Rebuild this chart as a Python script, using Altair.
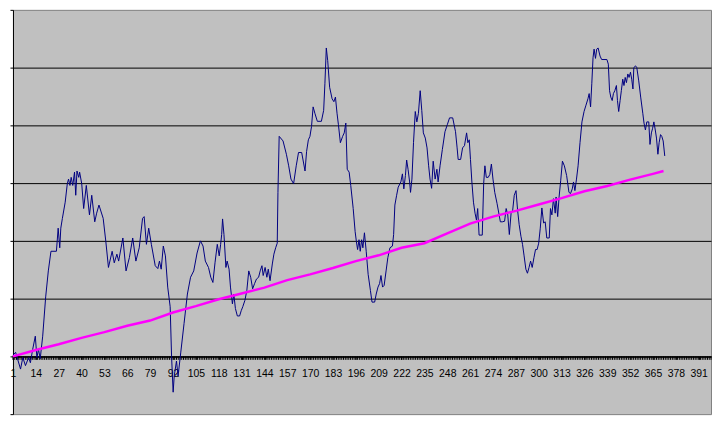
import altair as alt
import pandas as pd

# Blue series: vertex positions (category index) and values
day = [1.0, 2.5, 5.3, 6.6, 8.1, 9.9, 10.9, 12.2, 13.7, 14.6, 15.5, 16.5, 17.9, 19.6, 21.1, 22.6,
       25.7, 26.7, 27.6, 28.2, 29.1, 30.7, 31.9, 32.6, 33.4, 34.1, 35.0, 36.0, 36.7, 37.4, 38.4,
       38.9, 40.1, 41.2, 42.7, 44.5, 45.8, 47.5, 48.6, 49.9, 52.3, 53.8, 55.3, 57.4, 58.6, 60.1,
       61.1, 63.5, 65.3, 67.2, 69.1, 70.9, 72.8, 74.7,
       75.6, 76.9, 78.2, 79.7, 81.9, 83.4, 84.3, 85.3, 86.5, 87.7, 89.0, 90.4, 91.2, 92.1, 92.7,
       94.0, 94.9, 96.4, 98.3, 100.2, 102.0, 103.8, 105.7, 107.6, 109.1, 110.4, 112.2, 113.5,
       114.7, 115.9, 117.2, 118.3, 119.1, 119.7, 120.2, 121.0, 122.1, 122.8, 123.9, 124.7, 125.8,
       126.6, 127.5, 128.6, 129.9, 130.8, 131.7, 132.9, 134.0, 135.1, 136.2, 137.3, 138.4, 139.5,
       140.7, 141.6, 142.6, 143.3, 144.4, 145.4, 146.2, 147.2, 148.5, 149.4, 150.4, 151.3,
       151.7, 152.4, 154.6, 156.5, 157.8, 159.1, 160.6, 162.1, 163.4, 165.2, 167.1, 168.0, 169.0,
       169.9, 170.8, 171.7, 172.7, 174.1, 176.4, 177.7, 178.4, 179.2, 180.0, 181.1, 182.5, 183.5,
       184.4, 185.3, 186.1, 187.2, 188.5, 189.4, 190.3, 191.1, 192.2, 193.1, 194.5, 195.6, 196.3,
       197.0, 197.8, 198.5, 199.3, 200.0, 200.9, 201.9, 203.0, 204.3, 205.2, 206.7, 207.6, 208.6,
       209.5, 210.3, 211.2, 212.1, 213.2, 214.2, 215.4, 216.8, 217.5, 218.2, 219.2, 220.1, 221.6,
       222.5, 223.3, 224.2, 224.9,
       225.7, 226.6, 227.1, 227.9, 228.8, 229.8, 230.7, 231.6, 232.6, 233.5, 234.4, 235.5, 236.5,
       237.4, 238.2, 239.1, 240.0, 241.1, 242.1, 242.8, 243.9, 245.2, 246.7, 248.0, 249.3, 251.1,
       252.7, 253.6, 254.2, 255.6, 256.7, 257.8, 259.0, 259.7, 260.5, 261.2, 262.0, 262.9, 263.8,
       264.6, 265.3, 266.1, 267.9, 268.7, 269.4, 270.2, 271.3, 272.2, 273.1, 274.0, 275.0, 276.3,
       277.2, 278.2, 279.3, 280.6, 281.5, 282.4, 283.3, 284.3, 285.2, 286.1, 287.1, 288.0, 288.9,
       289.9, 290.8, 291.7, 292.7, 293.6, 294.5, 295.4, 296.3, 297.3, 298.2, 299.1,
       300.0, 300.9, 301.8, 302.8, 303.7, 304.6, 306.0, 306.7, 307.5, 308.4, 309.4, 309.9, 310.8,
       311.6, 312.5, 313.5, 314.6, 315.9, 317.2, 318.1, 319.1, 319.8, 320.6, 321.5, 322.4, 323.5,
       324.6, 325.8, 326.9, 328.0, 328.7, 329.5, 330.2, 330.9, 331.5, 332.3, 333.0, 333.8, 334.9,
       335.8, 338.8, 339.6, 340.3, 341.0, 341.8, 342.5, 343.3, 344.2, 344.8, 345.5, 346.3, 347.0,
       347.8, 348.5, 349.2, 349.9, 350.7, 351.4, 352.2, 352.9, 353.6, 354.1, 355.1, 355.8, 356.9,
       358.0, 359.2, 359.9, 360.7, 361.5, 362.6, 363.3, 364.1, 364.8, 365.5, 366.3, 367.0, 367.8,
       368.5, 369.3, 370.0, 370.8, 371.7]

value = [0.2, 0.7, -2.2, -0.2, -1.6, -0.2, -1.1, 1.2, 3.5, -0.2, 1.2, -0.4, 3.5, 10.3, 14.8, 18.2,
         18.2, 22.2, 18.8, 22.2, 23.9, 26.7, 29.9, 30.7, 29.6, 31.0, 29.6, 31.9, 27.9, 32.1, 31.0,
         31.9, 29.9, 25.6, 29.6, 24.5, 27.9, 23.3, 24.8, 26.2, 23.9, 19.9, 15.4, 18.2, 16.2, 17.7,
         16.5, 20.5, 14.8, 17.1, 20.5, 16.5, 18.8, 23.9,
         24.2, 19.4, 22.2, 19.4, 15.7, 15.2, 16.5, 15.1, 19.1, 17.4, 12.0, 8.6, 0.0, -6.2, -3.4,
         -0.8, -3.4, 0.6, 5.7, 10.8, 13.7, 14.8, 17.9, 20.0, 19.1, 16.5, 15.4, 13.7,
         12.8, 16.2, 19.4, 17.4, 19.4, 21.1, 23.8, 21.1, 15.4, 16.5, 15.1, 12.0, 9.1,
         10.8, 8.3, 7.0, 7.0, 7.9, 8.6, 9.7, 11.4, 14.8, 13.7, 11.7, 12.6, 13.4,
         13.7, 14.8, 15.7, 14.0, 15.4, 13.7, 15.1, 13.1, 16.0, 17.7, 18.8, 19.6,
         28.4, 38.1, 37.3, 35.0, 33.0, 30.7, 29.9, 33.0, 35.3, 35.3, 32.1, 35.5, 37.5,
         38.1, 39.8, 43.2, 42.1, 40.7, 40.7, 42.6, 47.2, 53.4, 51.2, 46.6, 44.6, 44.1,
         44.9, 42.1, 40.1, 37.0, 38.1, 38.7, 40.4, 32.4, 31.9, 29.6, 25.6, 21.6, 19.9,
         18.5, 20.2, 18.2, 20.2, 18.8, 21.4, 18.2, 14.2, 11.4, 9.4, 9.4, 10.8, 12.0,
         12.6, 14.0, 12.0, 12.3, 14.8, 17.1, 18.8, 19.1, 21.1, 26.2, 27.9, 29.3, 30.2,
         31.6, 29.0, 31.3, 34.0,
         32.4, 30.2, 28.4, 30.7, 37.0, 42.4, 40.6, 42.1, 46.0, 42.6, 38.7, 37.8, 36.1,
         33.0, 30.7, 29.1, 33.8, 30.7, 32.4, 30.2, 33.0, 35.8, 38.9, 40.1, 41.3, 41.3,
         38.9, 36.1, 34.1, 34.1, 36.1, 36.5, 38.7, 37.0, 37.5, 34.1, 30.2, 26.7, 24.8,
         23.6, 25.6, 21.0, 21.0, 29.9, 33.0, 31.0, 31.0, 31.5, 33.3, 30.7, 28.4, 26.5,
         25.0, 23.3, 23.3, 23.4, 25.6, 24.5, 21.1, 24.8, 25.3, 27.9, 28.7, 25.3, 22.8,
         20.8, 19.4, 17.4, 15.1, 14.4, 15.4, 16.5, 15.4, 17.1, 18.5, 18.5,
         19.6, 22.2, 25.7, 23.1, 23.3, 20.5, 20.5, 25.6, 24.5, 27.3, 24.8, 27.6, 24.2,
         27.6, 30.4, 33.8, 33.0, 31.3, 28.4, 28.2, 29.0, 30.2, 28.7, 30.7, 33.0, 37.0,
         40.6, 42.4, 43.5, 44.6, 45.5, 43.2, 47.2, 51.7, 53.2, 51.6, 53.2, 53.4, 52.0,
         51.4, 51.4, 50.6, 46.0, 44.9, 44.3, 45.5, 46.0, 46.9, 44.3, 42.4, 44.3, 46.0,
         48.0, 46.9, 48.3, 47.4, 48.9, 48.3, 49.2, 48.0, 46.3, 50.0, 50.3, 50.0, 47.7,
         44.9, 42.1, 40.4, 39.2, 40.6, 40.6, 36.7, 38.7, 39.5, 40.6, 39.2, 37.8, 35.0,
         37.0, 38.4, 38.1, 37.3, 34.7]

# Magenta trend series, read at every 13th category
trend_day = [1, 14, 27, 40, 53, 66, 79, 92, 105, 118, 131, 144, 157, 170, 183, 196, 209, 222,
             235, 248, 261, 274, 287, 300, 313, 326, 339, 352, 365, 371]
trend_value = [0.0, 1.1, 2.1, 3.2, 4.2, 5.3, 6.2, 7.6, 8.7, 9.9, 10.9, 11.9, 13.2, 14.2, 15.3,
               16.5, 17.5, 18.8, 19.6, 21.3, 23.0, 24.2, 25.2, 26.3, 27.4, 28.6, 29.5, 30.6,
               31.6, 32.1]

label_ticks = list(range(1, 392, 13))
minor_ticks = list(range(1, 399))
y_ticks = [-10, 0, 10, 20, 30, 40, 50, 60]

W, H = 701, 406

blue = pd.DataFrame({"day": day, "value": value})
trend = pd.DataFrame({"day": trend_day, "value": trend_value})
comb = pd.DataFrame({"day": minor_ticks})

x_scale = alt.Scale(domain=[1, 398], nice=False, zero=False)
y_scale = alt.Scale(domain=[-10, 60], nice=False, zero=False)

x_axis = alt.Axis(
    values=label_ticks,
    format="d",
    orient="bottom",
    labelOverlap=False,
    labelFlush=False,
    grid=False,
    title=None,
    tickSize=3,
    tickColor="black",
    domainColor="black",
    domainWidth=1.5,
    labelPadding=9,
    labelFont="Liberation Sans",
    labelFontSize=10.5,
    labelColor="black",
    offset=-H / 7,
)

y_axis = alt.Axis(
    values=y_ticks,
    labels=False,
    title=None,
    tickSize=3,
    tickColor="black",
    domainColor="black",
    grid=True,
    gridColor="black",
    gridOpacity=alt.condition("datum.value > 55 || datum.value < -5", alt.value(0), alt.value(1)),
)

line_blue = alt.Chart(blue).mark_line(color="#000080", strokeWidth=1).encode(
    x=alt.X("day:Q", scale=x_scale, axis=x_axis),
    y=alt.Y("value:Q", scale=y_scale, axis=y_axis),
)

line_trend = alt.Chart(trend).mark_line(color="#FF00FF", strokeWidth=2.5).encode(
    x=alt.X("day:Q", scale=x_scale, axis=x_axis),
    y=alt.Y("value:Q", scale=y_scale, axis=y_axis),
)

# minor category tick marks hanging below the category axis
ticks = alt.Chart(comb).mark_rule(color="black", strokeWidth=1, opacity=1).encode(
    x=alt.X("day:Q", scale=x_scale, axis=x_axis),
    y=alt.datum(0, axis=y_axis),
    y2=alt.datum(-0.6),
)

chart = alt.layer(ticks, line_blue, line_trend).properties(
    width=W, height=H, padding={"left": 0, "top": 0, "right": 0, "bottom": 0},
    background="white",
).configure_view(fill="#C0C0C0", stroke="#808080", strokeWidth=1)

chart.save("out.html", embed_options={"renderer": "svg", "actions": False})
